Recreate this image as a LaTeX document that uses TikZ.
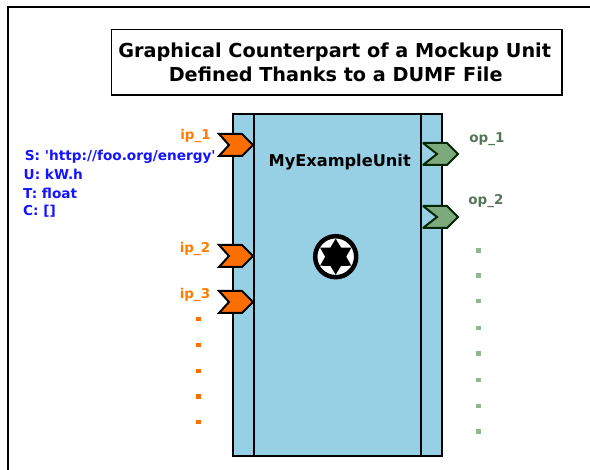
\documentclass[tikz,border=0pt]{standalone}
\usepackage{fontspec}
\setmainfont[Ligatures=TeXOff]{DejaVu Sans}
\definecolor{unitblue}{RGB}{151,208,229}
\definecolor{iporange}{RGB}{255,110,0}
\definecolor{opgreen}{RGB}{125,170,125}
\definecolor{optext}{RGB}{85,117,90}
\definecolor{metablue}{RGB}{20,20,255}
\tikzset{
  x=1pt,y=-1pt,
  ipchev/.pic={\draw[line width=2pt,fill=iporange,line join=miter,miter limit=3] (-34,-11)--(-11,-11)--(0,0)--(-11,11)--(-34,11)--(-24,0)--cycle;},
  opchev/.pic={\draw[line width=2pt,fill=opgreen,draw=black!85!green,line join=miter,miter limit=3] (-35,-11)--(-11,-11)--(0,0)--(-11,11)--(-35,11)--(-21,0)--cycle;},
  iplabel/.style={font=\fontsize{13.5}{14}\selectfont\bfseries,text=iporange!90!yellow,inner sep=0pt},
  oplabel/.style={font=\fontsize{13.5}{14}\selectfont\bfseries,text=optext,inner sep=0pt},
  metalabel/.style={font=\fontsize{13.65}{14}\selectfont\bfseries,text=metablue,inner sep=0pt,anchor=west},
  ipdot/.style={fill=iporange,inner sep=0pt,minimum size=4.5pt,draw=none},
  opdot/.style={fill=opgreen!85,inner sep=0pt,minimum size=4.5pt,draw=none},
  titlebox/.style={draw,line width=1.6pt,align=center,font=\fontsize{19.25}{24}\selectfont\bfseries,minimum width=450.5pt,minimum height=65.5pt,inner sep=0pt},
  unitbox/.style={draw,line width=1.7pt,fill=unitblue,minimum width=208.7pt,minimum height=342pt,inner sep=0pt}
}
\begin{document}
\begin{tikzpicture}
\useasboundingbox (0,0) rectangle (590,470);
\draw[line width=2pt] (8,470)--(8,7)--(590,7);
\node[titlebox] (title) at (336.7,62.2) {Graphical Counterpart of a Mockup Unit\kern4pt\\Defined Thanks to a DUMF File\kern2pt};
\node[unitbox] (unit) at (337.35,285) {};
\draw[line width=1.5pt] (254,114)--(254,456) (421,114)--(421,456);
\node[font=\fontsize{16.2}{17}\selectfont\bfseries,inner sep=0pt] (name) at (339.7,161.7) {MyExampleUnit};
\pic at (253,145) {ipchev};
\pic at (253,256) {ipchev};
\pic at (253,302) {ipchev};
\pic at (458,154) {opchev};
\pic at (458,217) {opchev};
\node[iplabel] (ip1) at (195.5,135.5) {ip\_1};
\node[iplabel] (ip2) at (195,249) {ip\_2};
\node[iplabel] (ip3) at (195,295) {ip\_3};
\node[oplabel] (op1) at (487,139.5) {op\_1};
\node[oplabel] (op2) at (486,201.5) {op\_2};
\node[metalabel] (ms) at (24.7,156.3) {S: 'http://foo.org/energy'};
\node[metalabel] (mu) at (23.5,174) {U: kW.h};
\node[metalabel] (mt) at (23,193) {T: float};
\node[metalabel] (mc) at (23,211.5) {C: []};
\foreach \y [count=\i] in {319,345,371,396.5,422} \node[ipdot] (id\i) at (198.7,\y) {};
\foreach \y [count=\i] in {250.7,275.7,301,328,353.7,380,406,431.7} \node[opdot] (od\i) at (478.7,\y) {};
\draw[line width=4.5pt,fill=white] (335.7,256.7) circle (20.5);
\fill (335.7,238.7)--(341,247.5)--(351.3,247.7)--(346.2,256.7)--(351.3,265.7)--(341,265.9)--(335.7,274.7)--(330.4,265.9)--(320.1,265.7)--(325.2,256.7)--(320.1,247.7)--(330.4,247.5)--cycle;
\end{tikzpicture}
\end{document}
